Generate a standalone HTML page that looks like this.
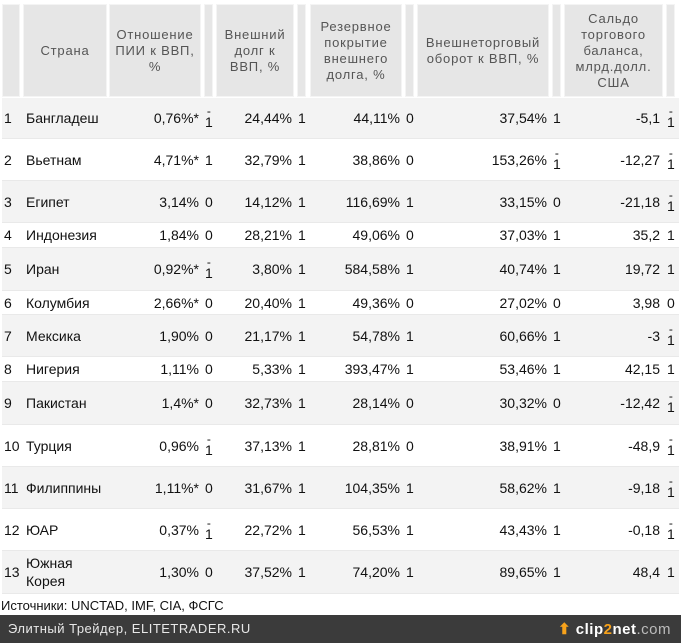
<!DOCTYPE html>
<html><head><meta charset="utf-8"><style>
body{margin:0;width:681px;height:643px;background:#fff;position:relative;overflow:hidden;font-family:"Liberation Sans",Arial,sans-serif;font-size:14px;color:#111}
.h{position:absolute;top:4px;height:93px;background:#e6e6e6;border:1px solid #f4f4f4;box-sizing:border-box;color:#555;font-size:13px;letter-spacing:0.8px;line-height:16px;text-align:center;display:flex;align-items:center;justify-content:center}
.r{position:absolute;left:2px;width:677px;border-bottom:1px solid #e9e9e9;box-sizing:border-box}
.g{background:#f3f3f3}
.c{position:absolute;top:0;height:100%;display:flex;align-items:center}
.rt{justify-content:flex-end}
.f{flex-direction:column;justify-content:center;line-height:14px}
.f b{font-weight:normal;font-size:12px;line-height:8px;height:8px;display:block}
</style></head><body>
<div class="h" style="left:2px;width:18px"></div>
<div class="h" style="left:23px;width:84px">Страна</div>
<div class="h" style="left:109px;width:92px">Отношение<br>ПИИ к ВВП,<br>%</div>
<div class="h" style="left:204px;width:9px"></div>
<div class="h" style="left:216px;width:78px">Внешний<br>долг к<br>ВВП, %</div>
<div class="h" style="left:297px;width:9px"></div>
<div class="h" style="left:310px;width:92px">Резервное<br>покрытие<br>внешнего<br>долга, %</div>
<div class="h" style="left:405px;width:9px"></div>
<div class="h" style="left:417px;width:132px">Внешнеторговый<br>оборот к ВВП, %</div>
<div class="h" style="left:552px;width:9px"></div>
<div class="h" style="left:564px;width:99px">Сальдо<br>торгового<br>баланса,<br>млрд.долл.<br>США</div>
<div class="h" style="left:666px;width:9px"></div>

<div id="rows"></div>
<script>
var d=[
["1","Бангладеш","0,76%*","-1","24,44%","1","44,11%","0","37,54%","1","-5,1","-1",98,41],
["2","Вьетнам","4,71%*","1","32,79%","1","38,86%","0","153,26%","-1","-12,27","-1",139,42],
["3","Египет","3,14%","0","14,12%","1","116,69%","1","33,15%","0","-21,18","-1",181,42],
["4","Индонезия","1,84%","0","28,21%","1","49,06%","0","37,03%","1","35,2","1",223,25],
["5","Иран","0,92%*","-1","3,80%","1","584,58%","1","40,74%","1","19,72","1",248,43],
["6","Колумбия","2,66%*","0","20,40%","1","49,36%","0","27,02%","0","3,98","0",291,24],
["7","Мексика","1,90%","0","21,17%","1","54,78%","1","60,66%","1","-3","-1",315,42],
["8","Нигерия","1,11%","0","5,33%","1","393,47%","1","53,46%","1","42,15","1",357,25],
["9","Пакистан","1,4%*","0","32,73%","1","28,14%","0","30,32%","0","-12,42","-1",382,43],
["10","Турция","0,96%","-1","37,13%","1","28,81%","0","38,91%","1","-48,9","-1",425,42],
["11","Филиппины","1,11%*","0","31,67%","1","104,35%","1","58,62%","1","-9,18","-1",467,42],
["12","ЮАР","0,37%","-1","22,72%","1","56,53%","1","43,43%","1","-0,18","-1",509,42],
["13","Южная<br>Корея","1,30%","0","37,52%","1","74,20%","1","89,65%","1","48,4","1",551,43]];
var vr=[199,292,400,547,660],fl=[205,298,406,553,667],h="";
d.forEach(function(r,i){
 h+='<div class="r'+(i%2==0?' g':'')+'" style="top:'+r[12]+'px;height:'+r[13]+'px">';
 h+='<div class="c" style="left:2px">'+r[0]+'</div>';
 h+='<div class="c" style="left:24px;line-height:18px">'+r[1]+'</div>';
 for(var k=0;k<5;k++){
  h+='<div class="c rt" style="left:0;width:'+(vr[k]-2)+'px">'+r[2+2*k]+'</div>';
  var f=r[3+2*k];
  if(f=="-1") h+='<div class="c f" style="left:'+(fl[k]-2)+'px"><b>-</b>1</div>';
  else h+='<div class="c" style="left:'+(fl[k]-2)+'px">'+f+'</div>';
 }
 h+='</div>';
});
document.getElementById('rows').innerHTML=h;
</script>
<div style="position:absolute;left:1px;top:598px;font-size:13px">Источники: UNCTAD, IMF, CIA, ФСГС</div>
<div style="position:absolute;left:0;top:615px;width:681px;height:28px;background:#3b3b3b;color:#e8e8e8;font-size:13px;letter-spacing:0.5px">
<span style="position:absolute;left:8px;top:6px">Элитный Трейдер, ELITETRADER.RU</span>
<span style="position:absolute;right:10px;top:5px;font-size:15px;font-weight:bold;color:#fff"><span style="color:#f7a21b">&#x2B06;</span> clip<span style="color:#f7a21b">2</span>net<span style="color:#bbb;font-weight:normal">.com</span></span>
</div>
</body></html>
